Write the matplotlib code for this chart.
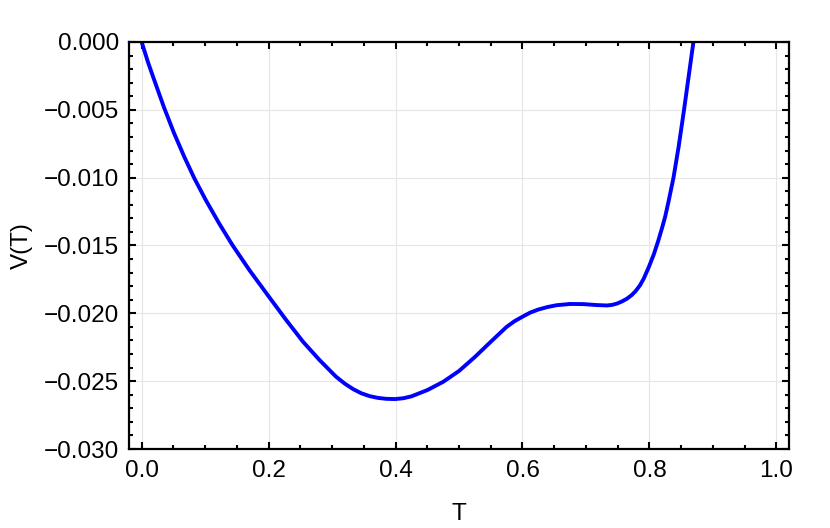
import matplotlib
matplotlib.use("Agg")
import matplotlib.pyplot as plt
from matplotlib.ticker import MultipleLocator, FuncFormatter

# values
T = [0.0, 0.010, 0.019, 0.035, 0.051, 0.067, 0.083, 0.101, 0.122, 0.143,
     0.170, 0.199, 0.227, 0.254, 0.280, 0.306, 0.320, 0.333, 0.346, 0.359,
     0.372, 0.385, 0.399, 0.412, 0.425, 0.450, 0.475, 0.500, 0.525, 0.550,
     0.575, 0.5875, 0.600, 0.612, 0.625, 0.640, 0.654, 0.675, 0.696, 0.717,
     0.733, 0.741, 0.749, 0.757, 0.765, 0.772, 0.778, 0.785, 0.791, 0.799,
     0.807, 0.814, 0.820, 0.825, 0.830, 0.834, 0.838, 0.846, 0.854, 0.862,
     0.869, 0.872]
V = [0.0, -0.00150, -0.00270, -0.00480, -0.00672, -0.00845, -0.01005, -0.01165,
     -0.01337, -0.01497, -0.01683, -0.01868, -0.02045, -0.02208, -0.02343,
     -0.02466, -0.02518, -0.02558, -0.02589, -0.02610, -0.02623, -0.02630,
     -0.02632, -0.02626, -0.02612, -0.02566, -0.02505, -0.02425, -0.02322,
     -0.02210, -0.02100, -0.02058, -0.02025, -0.01995, -0.01972, -0.01953,
     -0.01940, -0.01931, -0.01932, -0.01939, -0.01942, -0.01938, -0.01928,
     -0.01912, -0.01891, -0.01866, -0.01838, -0.01795, -0.01745, -0.01660,
     -0.01565, -0.01465, -0.01370, -0.01285, -0.01180, -0.01090, -0.01000,
     -0.00775, -0.00520, -0.00250, -0.00013, 0.0008]

x_ticks = [0.0, 0.2, 0.4, 0.6, 0.8, 1.0]
y_ticks = [0.0, -0.005, -0.010, -0.015, -0.020, -0.025, -0.030]

plt.rcParams["font.family"] = ["Liberation Sans", "DejaVu Sans"]

fig = plt.figure(figsize=(8.3, 5.28), dpi=100)
ax = fig.add_axes([0.1554, 0.1496, 0.7952, 0.7709])

ax.plot(T, V, color="#0000ff", linewidth=2.8, solid_joinstyle="round")

ax.set_xlim(-0.02, 1.02)
ax.set_ylim(-0.030, 0.0)
ax.set_xticks(x_ticks)
ax.set_yticks(y_ticks)
ax.xaxis.set_minor_locator(MultipleLocator(0.05))
ax.yaxis.set_minor_locator(MultipleLocator(0.001))
ax.xaxis.set_major_formatter(FuncFormatter(lambda v, p: f"{v:.1f}"))
ax.yaxis.set_major_formatter(
    FuncFormatter(lambda v, p: f"{v:.3f}".replace("-", "\u2212") if abs(v) > 1e-9 else "0.000"))

ax.tick_params(which="both", direction="in", top=True, right=True,
               labelsize=17.5, width=1.5, color="black")
ax.tick_params(which="major", length=5)
ax.tick_params(which="minor", length=3)
ax.tick_params(axis="x", which="major", pad=8)
ax.tick_params(axis="y", which="major", pad=7)

for s in ax.spines.values():
    s.set_linewidth(1.6)

ax.grid(True, which="major", color="#e6e6e6", linewidth=0.8)
ax.set_axisbelow(True)

ax.set_xlabel("T", fontsize=17.5, labelpad=15)
ax.set_ylabel("V(T)", fontsize=17.5, labelpad=8)

fig.savefig("out.png", dpi=100)
